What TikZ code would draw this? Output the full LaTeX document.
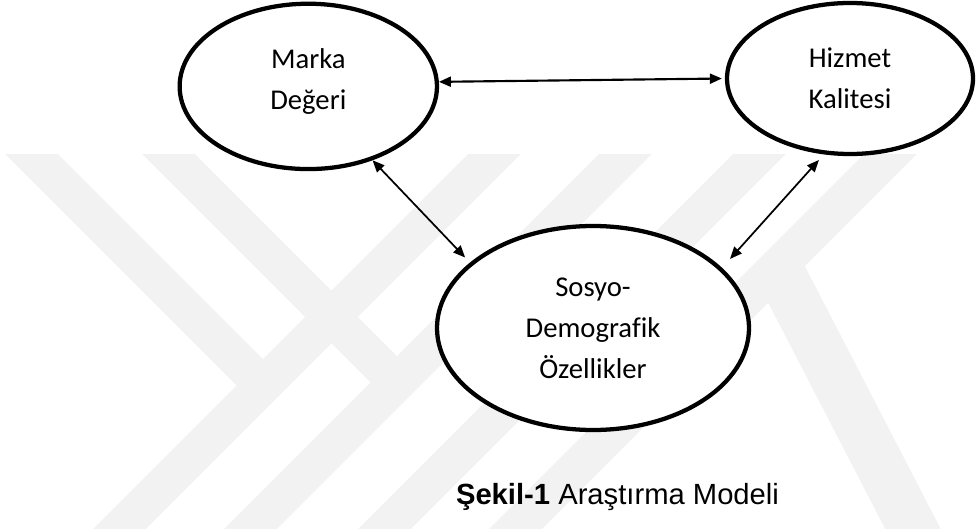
\documentclass[tikz,border=0pt]{standalone}
\usepackage{fontspec}
\setmainfont{Carlito}[Ligatures=NoCommon]
\newfontfamily\capfont{Liberation Sans}
\usetikzlibrary{shapes.geometric,arrows.meta}

\begin{document}
\begin{tikzpicture}[x=0.75pt,y=-0.75pt,
  construct/.style={ellipse,draw,line width=3.2pt,fill=white,inner sep=0pt,
    align=center,font=\fontsize{21.5}{30.75}\selectfont},
  link/.style={{Triangle[length=9pt,width=7.5pt]}-{Triangle[length=9pt,width=7.5pt]},line width=1.3pt},
  stripe/.style={black!5,line width=28pt}]
\useasboundingbox (0,0) rectangle (977,531);

% watermark
\begin{scope}
\clip (0,155) rectangle (977,528);
\draw[stripe] (12.5,135) -- (263,385.5);
\draw[stripe] (513.5,135) -- (93.5,555);
\draw[stripe] (149.5,135) -- (397,382.5);
\draw[stripe] (644.5,135) -- (224.5,555);
\draw[stripe] (778.5,135) -- (358.5,555);
\draw[stripe] (909.5,135) -- (489.5,555);
\draw[stripe,line width=37pt] (777.5,267) -- (929,560);
\end{scope}

\node[construct,minimum width=193pt,minimum height=124pt] (marka) at (308.3,86.4) {Marka\\Değeri\rule[-11pt]{0pt}{0pt}};
\node[construct,minimum width=184.5pt,minimum height=113.25pt] (hizmet) at (850,78.5) {Hizmet\\Kalitesi};
\node[construct,minimum width=234pt,minimum height=153pt] (sosyo) at (593,328) {Sosyo-\\Demografik\\Özellikler};

\draw[link,line width=1.6pt,shorten >=2.25pt] (marka.2.8) -- (hizmet.180.7);
\draw[link,shorten >=5.25pt] (marka.-49.5) -- (sosyo.152.5);
\draw[link,shorten <=5.6pt,shorten >=9pt] (hizmet.-109.1) -- (sosyo.25.6);

\node[anchor=base,font=\capfont\fontsize{21.9}{26}\selectfont] (caption) at (617.5,504)
  {\textbf{Şekil-1} Araştırma Modeli};
\end{tikzpicture}
\end{document}
